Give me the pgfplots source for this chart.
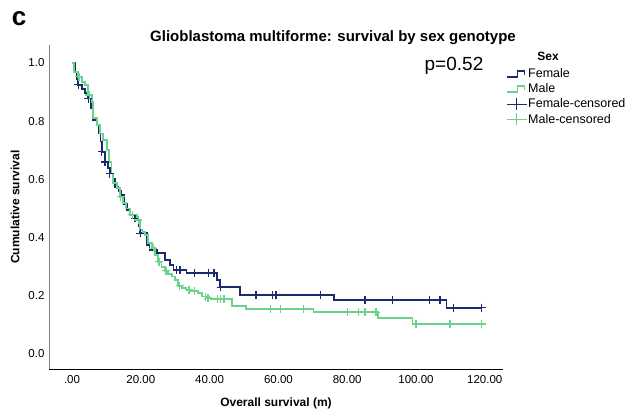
\documentclass[border=0pt]{standalone}
\usepackage{pgfplots}
\pgfplotsset{compat=1.18}
\usepackage{fontspec}
\setmainfont{Liberation Sans}
\definecolor{fem}{HTML}{1A2C6E}
\definecolor{mal}{HTML}{6CD38C}
\begin{document}
\begin{tikzpicture}[x=1pt,y=1pt]
\path[use as bounding box] (0,0) rectangle (632,416);
\begin{axis}[
  at={(49pt,47pt)}, anchor=south west,
  scale only axis, width=454pt, height=324pt,
  xmin=-6.7, xmax=125.3, ymin=-0.052, ymax=1.062,
  axis x line*=bottom, axis y line*=left,
  x axis line style={black, line width=0.9pt, -},
  y axis line style={gray, line width=0.9pt, -},
  major tick length=0pt,
  xtick={0,20,40,60,80,100,120},
  xticklabels={.00,20.00,40.00,60.00,80.00,100.00,120.00},
  ytick={0,0.2,0.4,0.6,0.8,1.0},
  yticklabels={0.0,0.2,0.4,0.6,0.8,1.0},
  /pgf/number format/assume math mode=true,
  tick label style={font=\fontsize{11.5}{13}\selectfont},
  xticklabel style={yshift=-3pt},
  yticklabel style={xshift=-1pt},
  xlabel={\textbf{Overall survival (m)}},
  ylabel={\textbf{Cumulative survival}},
  label style={font=\fontsize{12}{14}\selectfont},
  xlabel style={yshift=-7pt},
  ylabel style={yshift=2pt},
  legend style={at={(1.006,0.93)}, anchor=north west, draw=none, fill=none,
    font=\fontsize{12.5}{14}\selectfont, row sep=2.3pt, inner sep=0pt,
    nodes={inner sep=1pt}},
  legend cell align=left,
  clip=false,
]
\addplot[const plot, fem, line width=1.8pt,
  legend image code/.code={\draw[fem, line width=1.5pt] (0pt,-3pt) -| (11pt,3pt) -| (18pt,-1pt);}]
coordinates {
(0,1.0)(0.9,0.97)(1.3,0.945)(1.8,0.925)(2.8,0.912)(3.8,0.896)(4.7,0.878)(5.5,0.845)
(6.2,0.804)(7.2,0.787)(7.9,0.758)(8.3,0.73)(8.6,0.695)(9.5,0.66)(10.4,0.64)(11,0.62)
(11.8,0.6)(12.5,0.575)(13.5,0.56)(14.4,0.545)(15.2,0.515)(15.9,0.495)(16.9,0.478)
(18.3,0.466)(19.3,0.44)(19.8,0.415)(21.7,0.375)(22.5,0.357)(24.6,0.346)(27,0.323)
(28.5,0.306)(29.5,0.289)(33.3,0.277)(42.2,0.254)(43,0.229)(48.8,0.203)(76.2,0.186)
(108.9,0.159)(119.1,0.159)};
\addlegendentry{Female}
\addplot[const plot, mal, line width=1.8pt,
  legend image code/.code={\draw[mal, line width=1.5pt] (0pt,-3pt) -| (11pt,3pt) -| (18pt,-1pt);}]
coordinates {
(0,1.0)(0.6,0.97)(1.8,0.953)(2.8,0.936)(3.8,0.924)(4.7,0.89)(5.7,0.867)(6.2,0.81)
(7.2,0.787)(8.1,0.758)(9.1,0.735)(10.1,0.70)(10.8,0.66)(11.5,0.62)(12,0.587)(13,0.57)
(14,0.54)(14.9,0.518)(15.8,0.5)(16.9,0.478)(18.8,0.46)(19.8,0.426)(20.5,0.42)(21.2,0.41)
(22.2,0.38)(23.2,0.363)(24.1,0.34)(25.1,0.317)(26,0.3)(27,0.286)(28,0.275)(29,0.266)
(30,0.254)(30.9,0.234)(31.9,0.226)(33.3,0.22)(35,0.215)(36.7,0.209)(37.7,0.197)
(39.2,0.191)(40.5,0.188)(46.4,0.165)(50.5,0.155)(70.2,0.143)(89,0.122)(99,0.103)
(119.1,0.103)};
\addlegendentry{Male}
\addplot[only marks, mark=+, mark size=4pt, fem, mark options={line width=1.2pt},
  legend image code/.code={\draw[fem, line width=1pt] (0pt,0pt) -- (20pt,0pt); \draw[fem, line width=1pt] (10pt,-6pt) -- (10pt,6pt);}]
coordinates {
(1.8,0.925)(4.7,0.878)(8.6,0.695)(9.6,0.66)(11,0.62)(18.3,0.466)(19.8,0.415)
(30.4,0.289)(31.4,0.289)(35.5,0.277)(39.6,0.277)(41.3,0.277)(43.2,0.229)(53.5,0.203)
(58.3,0.203)(59.3,0.203)(72.3,0.203)(85.2,0.186)(93.1,0.186)(104,0.186)(107,0.186)
(110.8,0.159)(119.1,0.159)};
\addlegendentry{Female-censored}
\addplot[only marks, mark=+, mark size=4pt, mal, mark options={line width=1.2pt},
  legend image code/.code={\draw[mal, line width=1pt] (0pt,0pt) -- (20pt,0pt); \draw[mal, line width=1pt] (10pt,-6pt) -- (10pt,6pt);}]
coordinates {
(2.0,0.953)(5,0.89)(14.2,0.54)(17.5,0.478)(19.3,0.46)(23.6,0.363)(25.3,0.317)(27.3,0.286)
(31.3,0.234)(34,0.22)(35.5,0.215)(38.9,0.197)(39.5,0.191)(42.2,0.188)(43.2,0.188)
(44.2,0.188)(57.6,0.155)(60.5,0.155)(67.2,0.155)(80.1,0.143)(83.2,0.143)(85.2,0.143)
(88.4,0.143)(100,0.103)(109.9,0.103)(119.1,0.103)};
\addlegendentry{Male-censored}
\end{axis}
\node[font=\fontsize{15}{17}\selectfont\bfseries] at (333,378.5) {Glioblastoma multiforme: survival by sex genotype};
\node[font=\fontsize{26}{28}\selectfont\bfseries] at (19,397) {c};
\node[font=\fontsize{19}{21}\selectfont] at (454,350) {p=0.52};
\node[font=\fontsize{12}{14}\selectfont\bfseries] at (548,360) {Sex};
\end{tikzpicture}
\end{document}
